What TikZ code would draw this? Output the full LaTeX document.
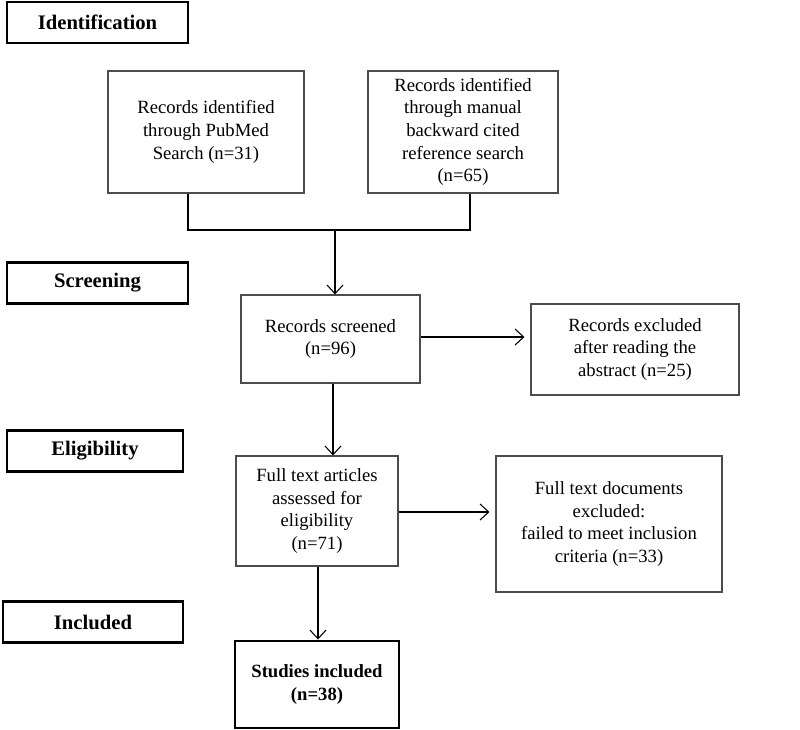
\documentclass[tikz,border=0pt]{standalone}
\usepackage{fontspec}
\setmainfont{Liberation Serif}
\usetikzlibrary{arrows.meta, positioning}

\begin{document}
\begin{tikzpicture}[x=0.75pt, y=-0.75pt,
    every node/.style={font=\fontsize{14}{17}\selectfont, align=center, inner sep=2pt},
    stagebox/.style={draw=black, line width=2.2pt, minimum height=30.75pt, font=\fontsize{15.5}{18}\selectfont\bfseries},
    recbox/.style={draw=black!70, line width=0.8pt},
    flow/.style={-{Straight Barb[length=6.5pt, width=12pt]}, line width=0.8pt}]
    \useasboundingbox (0,0) rectangle (800,729);

    % Stage labels
    \node[stagebox, minimum width=135.75pt] (ident) at (97.5,22.5) {Identification};
    \node[stagebox, minimum width=135.75pt] (screen) at (97.5,283) {Screening};
    \node[stagebox, minimum width=132pt] (elig) at (95,451) {Eligibility};
    \node[stagebox, minimum width=135pt] (incl) at (93,622) {Included};

    % Records
    \node[recbox, minimum width=147pt, minimum height=91.5pt] (pubmed) at (206,132)
        {Records identified\\through PubMed\\Search (n=31)};
    \node[recbox, minimum width=142.5pt, minimum height=91.5pt, inner sep=1pt] (manual) at (463,132)
        {Records identified\\through manual\\backward cited\\reference search\\(n=65)};
    \node[recbox, minimum width=134.25pt, minimum height=66pt] (screened) at (330.5,339)
        {Records screened\\(n=96)};
    \node[recbox, minimum width=156pt, minimum height=68.25pt] (excla) at (635,349.5)
        {Records excluded\\after reading the\\abstract (n=25)};
    \node[recbox, minimum width=121.5pt, minimum height=82.5pt] (fulltext) at (317,511)
        {Full text articles\\assessed for\\eligibility\\(n=71)};
    \node[recbox, minimum width=169.5pt, minimum height=102pt] (exclb) at (609,524)
        {Full text documents\\excluded:\\failed to meet inclusion\\criteria (n=33)};
    \node[draw=black, line width=2.2pt, minimum width=123pt, minimum height=65.25pt,
          font=\fontsize{14}{17}\selectfont\bfseries] (studies) at (317,684.5)
        {Studies included\\(n=38)};

    % Merge of the two sources
    \coordinate (mergeL) at (188,230);
    \coordinate (mergeR) at (470,230);
    \coordinate (mergeM) at (335,230);
    \draw[line width=0.8pt] (pubmed.south -| mergeL) -- (mergeL) -- (mergeR) -- (manual.south -| mergeR);
    \draw[flow] (mergeM) -- (screened.north -| mergeM);

    % Flow
    \draw[flow, shorten >=4.5pt] (screened.east |- 0,337) -- (excla.west |- 0,337);
    \draw[flow] (screened.south -| 333,0) -- (fulltext.north -| 333,0);
    \draw[flow, shorten >=4.5pt] (fulltext.east |- 0,512) -- (exclb.west |- 0,512);
    \draw[flow] (fulltext.south -| 318,0) -- (studies.north -| 318,0);
\end{tikzpicture}
\end{document}
